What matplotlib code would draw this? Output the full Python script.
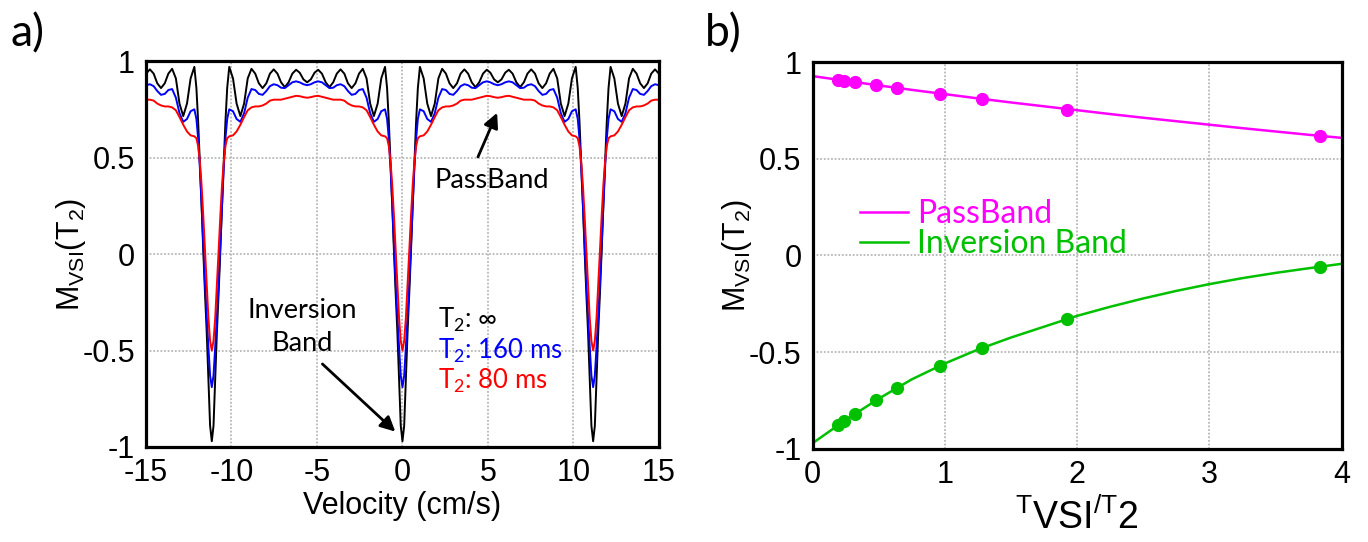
import numpy as np
import matplotlib
matplotlib.use("Agg")
import matplotlib.pyplot as plt

plt.rcParams['font.family'] = ['Liberation Sans', 'DejaVu Sans']
plt.rcParams['mathtext.default'] = 'regular'
plt.rcParams['axes.unicode_minus'] = False

# ---- panel a: profile of one band, read from the dip (offset 0) to the middle of the passband
# the pattern repeats around each inversion dip and is mirror symmetric
dip_centres = [-11.15, 0.0, 11.15]
band_offset = [0, 0.1, 0.2, 0.3, 0.4, 0.5, 0.6, 0.7, 0.8, 0.9, 1.02, 1.24, 1.45, 1.67,
               1.89, 2.10, 2.32, 2.54, 2.75, 2.97, 3.19, 3.40, 3.62, 3.84, 4.05, 4.27,
               4.49, 4.71, 4.93, 5.14, 5.36, 5.575]
m_t2_inf = [-0.97, -0.89, -0.65, -0.40, -0.20, 0.02, 0.26, 0.48, 0.69, 0.86, 0.97, 0.91,
            0.78, 0.715, 0.78, 0.91, 0.96, 0.935, 0.885, 0.86, 0.885, 0.935, 0.957, 0.935,
            0.89, 0.865, 0.89, 0.935, 0.955, 0.94, 0.905, 0.89]
m_t2_160 = [-0.69, -0.63, -0.48, -0.32, -0.15, 0.05, 0.26, 0.45, 0.60, 0.70, 0.75, 0.74,
            0.70, 0.685, 0.73, 0.81, 0.855, 0.85, 0.83, 0.825, 0.845, 0.87, 0.88, 0.875,
            0.862, 0.86, 0.875, 0.89, 0.895, 0.89, 0.88, 0.875]
m_t2_80 = [-0.50, -0.45, -0.33, -0.16, 0.02, 0.20, 0.36, 0.48, 0.56, 0.60, 0.61, 0.615,
           0.635, 0.67, 0.71, 0.745, 0.76, 0.765, 0.765, 0.77, 0.78, 0.795, 0.80, 0.80,
           0.80, 0.805, 0.81, 0.815, 0.82, 0.818, 0.813, 0.81]

# ---- panel b
ratio_pts = [0.192, 0.24, 0.32, 0.48, 0.64, 0.96, 1.28, 1.92, 3.84]
passband_pts = [0.908, 0.903, 0.895, 0.880, 0.866, 0.836, 0.807, 0.753, 0.618]
inversion_pts = [-0.875, -0.853, -0.817, -0.748, -0.683, -0.570, -0.478, -0.328, -0.060]
ratio_fit = [0, 0.25, 0.5, 0.75, 1.0, 1.25, 1.5, 1.75, 2.0, 2.25, 2.5, 2.75, 3.0, 3.25,
             3.5, 3.75, 4.0]
passband_fit = [0.927, 0.903, 0.879, 0.856, 0.834, 0.812, 0.791, 0.771, 0.751, 0.731,
                0.712, 0.694, 0.676, 0.658, 0.641, 0.624, 0.608]
inversion_fit = [-0.970, -0.850, -0.740, -0.640, -0.558, -0.486, -0.424, -0.368, -0.312,
                 -0.265, -0.222, -0.183, -0.148, -0.117, -0.090, -0.066, -0.043]


def band_curve(half):
    off = np.asarray(band_offset)
    half = np.asarray(half)
    v = np.concatenate([np.concatenate([c - off[:0:-1], c + off]) for c in dip_centres])
    m = np.concatenate([np.concatenate([half[:0:-1], half]) for c in dip_centres])
    order = np.argsort(v, kind='stable')
    v, m = v[order], m[order]
    keep = np.r_[True, np.diff(v) > 1e-9]
    return v[keep], m[keep]


def style_axes(ax):
    for s in ax.spines.values():
        s.set_linewidth(2.3)
    ax.tick_params(length=0, labelsize=22, pad=8)
    ax.grid(True, color='#b8b8b8', linestyle=(0, (1, 1)), linewidth=1.3)
    ax.set_axisbelow(True)
    ax.set_ylim(-1, 1)
    ax.set_yticks([-1, -0.5, 0, 0.5, 1])
    ax.set_yticklabels(['-1', '-0.5', '0', '0.5', '1'])


fig = plt.figure(figsize=(13.68, 5.42), dpi=100)
ax1 = fig.add_axes([0.1067, 0.1753, 0.375, 0.712])
ax2 = fig.add_axes([0.594, 0.1716, 0.3867, 0.714])

ann = dict(family=['Lato', 'DejaVu Sans'], fontsize=19.5)

# a)
for half, col in [(m_t2_inf, 'k'), (m_t2_160, '#0000ff'), (m_t2_80, '#ff0000')]:
    v, m = band_curve(half)
    ax1.plot(v, m, color=col, lw=1.4)
style_axes(ax1)
ax1.set_xlim(-15, 15)
ax1.set_xticks([-15, -10, -5, 0, 5, 10, 15])
ax1.set_xlabel('Velocity (cm/s)', fontsize=22, labelpad=2)
ax1.set_ylabel('M$_{VSI}$(T$_2$)', fontsize=22, labelpad=-4)

ax1.text(5.2, 0.38, 'PassBand', ha='center', va='center', **ann)
ax1.annotate('', xy=(5.6, 0.745), xytext=(4.35, 0.49),
             arrowprops=dict(arrowstyle='-|>', color='k', lw=2, mutation_scale=22))
ax1.text(-5.85, -0.38, 'Inversion\nBand', ha='center', va='center', linespacing=1.4, **ann)
ax1.annotate('', xy=(-0.3, -0.93), xytext=(-4.8, -0.56),
             arrowprops=dict(arrowstyle='-|>', color='k', lw=2, mutation_scale=22))
leg_kw = dict(ann, fontsize=18.5)
ax1.text(2.1, -0.34, 'T$_2$: ∞', color='k', va='center', **leg_kw)
ax1.text(2.1, -0.50, 'T$_2$: 160 ms', color='#0000ff', va='center', **leg_kw)
ax1.text(2.1, -0.66, 'T$_2$: 80 ms', color='#ff0000', va='center', **leg_kw)

# b)
ax2.plot(ratio_fit, passband_fit, color='#ff00ff', lw=1.8, label='PassBand')
ax2.plot(ratio_fit, inversion_fit, color='#00c000', lw=1.8, label='Inversion Band')
ax2.plot(ratio_pts, passband_pts, 'o', color='#ff00ff', ms=8.5)
ax2.plot(ratio_pts, inversion_pts, 'o', color='#00c000', ms=8.5)
style_axes(ax2)
ax2.set_xlim(0, 4)
ax2.set_xticks([0, 1, 2, 3, 4])
ax2.set_xlabel('${}^{T}$VSI${}^{/T}$2', fontsize=27, labelpad=6)
ax2.set_ylabel('M$_{VSI}$(T$_2$)', fontsize=22, labelpad=-4)
leg = ax2.legend(loc='upper left', bbox_to_anchor=(0.035, 0.72), frameon=False,
                 labelcolor='linecolor', handlelength=1.5, handletextpad=0.3,
                 labelspacing=0.0, prop=dict(family='Lato', size=23))

fig.text(0.008, 0.975, 'a)', fontsize=32, va='top', family='Lato')
fig.text(0.515, 0.975, 'b)', fontsize=32, va='top', family='Lato')

fig.savefig('out.png', dpi=100)
